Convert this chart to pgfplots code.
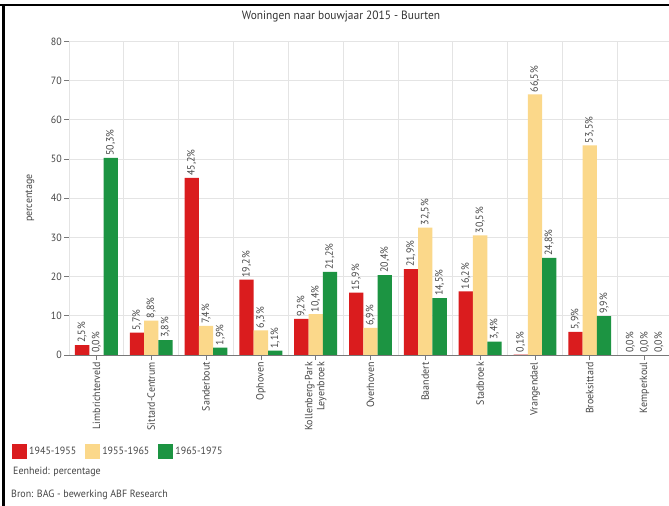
\documentclass[border=0pt]{standalone}
\usepackage{pgfplots}
\pgfplotsset{compat=1.18}
\usepackage{fontspec}
\setmainfont{PT Sans}[FakeStretch=0.95]
\definecolor{cred}{RGB}{218,28,30}
\definecolor{cyel}{RGB}{251,216,138}
\definecolor{cgrn}{RGB}{28,148,66}
\definecolor{gridc}{RGB}{228,228,228}
\definecolor{tickc}{RGB}{120,120,120}
\definecolor{txtc}{RGB}{70,70,70}
\pgfplotsset{/pgf/number format/assume math mode=true}
\begin{document}
\begin{tikzpicture}
\useasboundingbox (0,0) rectangle (669bp,506bp);
\fill[white] (0,0) rectangle (669bp,506bp);
\begin{axis}[
  at={(69bp,151bp)}, anchor=south west,
  scale only axis, width=603bp, height=313.6bp,
  xmin=-0.5, xmax=10.5, ymin=0, ymax=80,
  ytick={0,10,...,80},
  xtick={0,...,10},
  xticklabels={Limbrichterveld,Sittard-Centrum,Sanderbout,Ophoven,{Kollenberg-Park\\Leyenbroek},Overhoven,Baandert,Stadbroek,Vrangendael,Broeksittard,Kemperkoul},
  minor xtick={-0.5,0.5,...,10.5},
  xminorgrids, ymajorgrids,
  minor grid style={gridc, line width=0.8bp},
  major grid style={gridc, line width=0.8bp},
  minor tick length=0pt,
  major tick length=5bp,
  tick align=outside,
  tick style={tickc, line width=0.7bp},
  axis x line*=bottom, axis y line*=left,
  x axis line style={tickc, line width=0.8bp, -},
  y axis line style={gridc, line width=0.8bp, -},
  ticklabel style={font=\fontsize{10.5bp}{12bp}\selectfont, text=txtc},
  x tick label style={rotate=90, anchor=east, align=right, inner sep=2bp},
  y tick label style={inner sep=2bp},
  ylabel={percentage},
  ylabel style={at={(axis description cs:-0.0647,0.5)}, anchor=center, font=\fontsize{10.5bp}{12bp}\selectfont, text=txtc},
  ybar=0pt, bar width=14.3bp,
  nodes near coords={\pgfmathprintnumber[fixed,fixed zerofill,precision=1,use comma]{\pgfplotspointmeta}\%},
  every node near coord/.append style={rotate=90, anchor=west, font=\fontsize{10.5bp}{12bp}\selectfont, text=txtc, inner sep=2bp},
  legend columns=3,
  legend image code/.code={\fill[#1,draw=none] (0bp,-7.5bp) rectangle (15bp,7.5bp);},
  legend style={at={(-0.0945,-0.3093)}, anchor=west, draw=none, fill=none, inner sep=0pt,
     font=\fontsize{10.5bp}{12bp}\selectfont, text=txtc,
     /tikz/every even column/.append style={column sep=7bp},
     nodes={inner sep=2bp}},
]
\addplot[fill=cred, draw=none] coordinates {(0,2.5) (1,5.7) (2,45.2) (3,19.2) (4,9.2) (5,15.9) (6,21.9) (7,16.2) (8,0.1) (9,5.9) (10,0.0)};
\addplot[fill=cyel, draw=none] coordinates {(0,0.0) (1,8.8) (2,7.4) (3,6.3) (4,10.4) (5,6.9) (6,32.5) (7,30.5) (8,66.5) (9,53.5) (10,0.0)};
\addplot[fill=cgrn, draw=none] coordinates {(0,50.3) (1,3.8) (2,1.9) (3,1.1) (4,21.2) (5,20.4) (6,14.5) (7,3.4) (8,24.8) (9,9.9) (10,0.0)};
\legend{1945-1955,1955-1965,1965-1975}
\end{axis}
\node[font=\fontsize{12bp}{14bp}\selectfont, text=black!80] at (341bp,489bp) {Woningen naar bouwjaar 2015 - Buurten};
\node[anchor=west, font=\fontsize{10.5bp}{12bp}\selectfont, text=txtc, inner sep=0pt] at (13bp,34bp) {Eenheid: percentage};
\node[anchor=west, font=\fontsize{10.5bp}{12bp}\selectfont, text=txtc, inner sep=0pt] at (11bp,11bp) {Bron: BAG - bewerking ABF Research};
\draw[black, line width=2bp] (0,501bp) -- (669bp,501bp);
\draw[black, line width=3bp] (3bp,0) -- (3bp,502bp);
\end{tikzpicture}
\end{document}
